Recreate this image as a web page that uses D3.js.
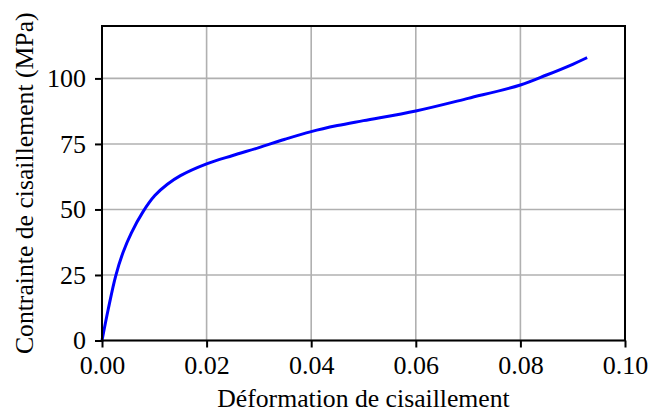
<!DOCTYPE html>
<html><head><meta charset="utf-8">
<script src="https://cdn.jsdelivr.net/npm/d3@7"></script>
<style>
html,body{margin:0;padding:0;background:#fff;}
svg{display:block;}
svg text{font-family:"Liberation Serif","Times New Roman",serif !important;}
</style></head>
<body>
<svg id="chart" width="649" height="414"></svg>
<script>
const strain = [0, 0.0012, 0.0026, 0.0040, 0.0056, 0.0078, 0.0101, 0.0125, 0.0150, 0.0200, 0.0250, 0.0300, 0.0350, 0.0400, 0.0450, 0.0500, 0.0600, 0.0700, 0.0800, 0.0850, 0.0900, 0.0925];
const stress = [0, 12.0, 24.5, 33.5, 41.0, 49.0, 55.3, 59.6, 62.9, 67.4, 70.6, 73.6, 76.8, 79.7, 82.0, 83.9, 87.6, 92.4, 97.5, 101.3, 105.4, 107.7];
const xTicks = [0, 0.02, 0.04, 0.06, 0.08, 0.10];
const yTicks = [0, 25, 50, 75, 100];
const xLabel = "Déformation de cisaillement";
const yLabel = "Contrainte de cisaillement (MPa)";

const svg = d3.select("#chart");
const L = 102, R = 625, T = 26, B = 340.5;
const x = d3.scaleLinear().domain([0, 0.10]).range([L, R]);
const y = d3.scaleLinear().domain([0, 120]).range([B, T]);

// grid
svg.append("g").selectAll("line").data(xTicks).join("line")
  .attr("x1", d => x(d)).attr("x2", d => x(d)).attr("y1", T).attr("y2", B)
  .attr("stroke", "#b0b0b0").attr("stroke-width", 1.6);
svg.append("g").selectAll("line").data(yTicks).join("line")
  .attr("x1", L).attr("x2", R).attr("y1", d => y(d)).attr("y2", d => y(d))
  .attr("stroke", "#b0b0b0").attr("stroke-width", 1.6);

// line
const data = strain.map((s, i) => [s, stress[i]]);
svg.append("path").datum(data)
  .attr("fill", "none").attr("stroke", "#0000ff").attr("stroke-width", 3)
  .attr("stroke-linejoin", "round").attr("stroke-linecap", "square")
  .attr("d", d3.line().x(d => x(d[0])).y(d => y(d[1])).curve(d3.curveCatmullRom.alpha(0.5)));

// frame
svg.append("rect").attr("x", L).attr("y", T).attr("width", R - L).attr("height", B - T)
  .attr("fill", "none").attr("stroke", "#000").attr("stroke-width", 2);

// axes
const xAxis = d3.axisBottom(x).tickValues(xTicks).tickFormat(d3.format(".2f")).tickSizeOuter(0).tickSize(7).tickPadding(8);
const gx = svg.append("g").attr("transform", `translate(0,${B})`).call(xAxis);
const yAxis = d3.axisLeft(y).tickValues(yTicks).tickFormat(d3.format("d")).tickSizeOuter(0).tickSize(7).tickPadding(9);
const gy = svg.append("g").attr("transform", `translate(${L},0)`).call(yAxis);
[gx, gy].forEach(g => {
  g.select(".domain").remove();
  g.attr("font-family", "Liberation Serif");
  g.selectAll("line").attr("stroke", "#000").attr("stroke-width", 2);
  g.selectAll("text").attr("font-size", 26).attr("fill", "#000");
});

svg.append("text").attr("x", (L + R) / 2).attr("y", 407)
  .attr("text-anchor", "middle").attr("font-size", 25.7).text(xLabel);
svg.append("text").attr("transform", `translate(33,${(T + B) / 2}) rotate(-90)`)
  .attr("text-anchor", "middle").attr("font-size", 25.7).text(yLabel);
</script>
</body></html>
